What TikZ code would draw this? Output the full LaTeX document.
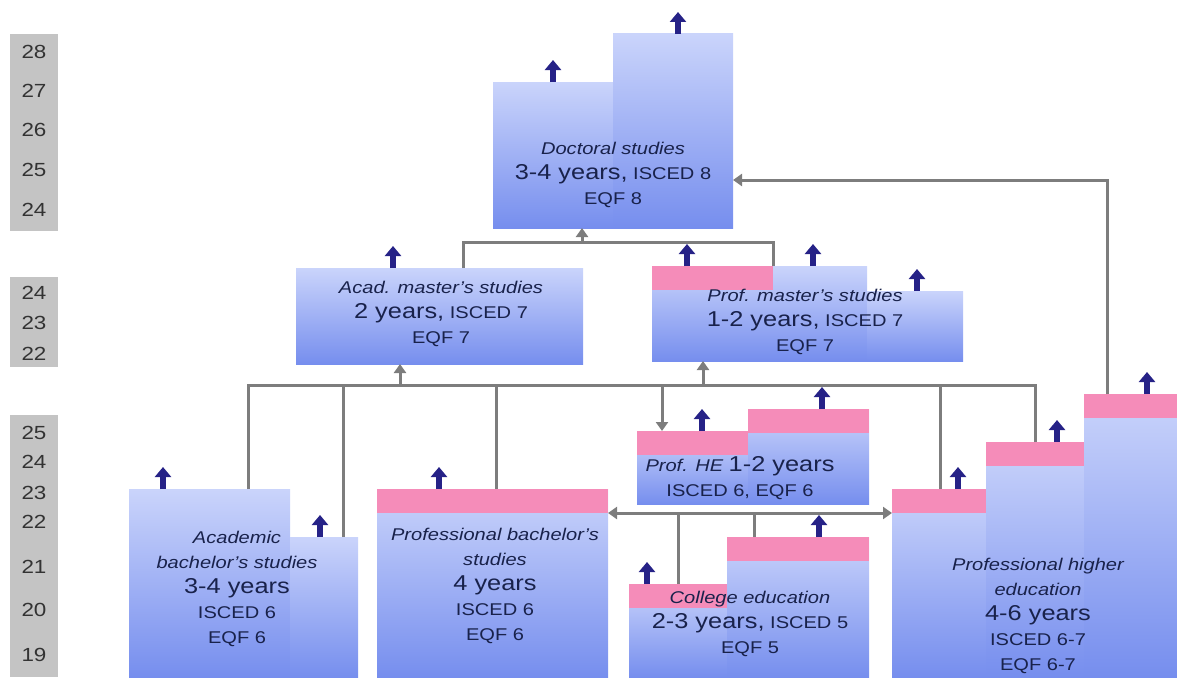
\documentclass[tikz,border=0pt]{standalone}
\usepackage{fontspec}
\setmainfont{Liberation Sans}[FakeStretch=1.18]
\usetikzlibrary{arrows.meta,positioning}
\definecolor{boxtop}{RGB}{202,212,251}
\definecolor{boxbot}{RGB}{118,142,238}
\definecolor{capink}{RGB}{245,140,185}
\definecolor{risecol}{RGB}{38,34,135}
\definecolor{linkgray}{RGB}{125,125,125}
\definecolor{agegray}{RGB}{196,196,196}
\definecolor{txtnavy}{RGB}{25,34,75}
\newcommand{\durfont}{\fontsize{21.5}{25}\selectfont}
\newcommand{\namefont}{\fontsize{17}{25}\selectfont\itshape}

\begin{document}
\begin{tikzpicture}[x=1pt, y=-1pt,
    stepbar/.style={anchor=north west, inner sep=0pt, outer sep=0pt, top color=boxtop, bottom color=boxbot},
    wh/.style 2 args={minimum width=#1pt, minimum height=#2pt},
    pinkcap/.style={path picture={\fill[capink] (path picture bounding box.north west) rectangle ([yshift=-24pt]path picture bounding box.north east);}},
    rise/.style={draw=risecol, line width=6pt, -{Triangle[width=16pt,length=10pt]}},
    link/.style={draw=linkgray, line width=3pt},
    linkto/.style={link, -{Triangle[width=12pt,length=9pt]}},
    linkboth/.style={link, {Triangle[width=12pt,length=9pt]}-{Triangle[width=12pt,length=9pt]}},
    boxtxt/.style={align=center, text=txtnavy, inner sep=0pt, font=\fontsize{17}{25}\selectfont},
    agelbl/.style={text=black!80, inner sep=0pt, font=\fontsize{19}{20}\selectfont}
  ]
  \useasboundingbox (0,0) rectangle (1177,677);

  \fill[agegray] (10,34) rectangle (58,231);
  \fill[agegray] (10,277) rectangle (58,367);
  \fill[agegray] (10,415) rectangle (58,677);
  \foreach \a/\y in {28/52,27/91,26/130,25/170,24/210}
    \node[agelbl] (top\a) at (34,\y) {\a};
  \foreach \a/\y in {24/293,23/323,22/354}
    \node[agelbl] (mid\a) at (34,\y) {\a};
  \foreach \a/\y in {25/433,24/462,23/493,22/522,21/567,20/610,19/655}
    \node[agelbl] (low\a) at (34,\y) {\a};

  \node[stepbar, wh={120}{146}] (doc1) at (493,82) {};
  \node[stepbar, wh={120}{194}] (doc2) at (613,34) {};
  \node[stepbar, wh={287}{96}] (am) at (296,268) {};
  \node[stepbar, pinkcap, wh={121}{95}] (pm1) at (652,266) {};
  \node[stepbar, wh={94}{95}] (pm2) at (773,266) {};
  \node[stepbar, wh={96}{70}] (pm3) at (867,291) {};
  \node[stepbar, pinkcap, wh={111}{73}] (he1) at (637,431) {};
  \node[stepbar, pinkcap, wh={121}{95}] (he2) at (748,409) {};
  \node[stepbar, wh={161}{188}] (ab1) at (129,489) {};
  \node[stepbar, wh={68}{140}] (ab2) at (290,537) {};
  \node[stepbar, pinkcap, wh={231}{188}] (pb) at (377,489) {};
  \node[stepbar, pinkcap, wh={98}{93}] (col1) at (629,584) {};
  \node[stepbar, pinkcap, wh={142}{140}] (col2) at (727,537) {};
  \node[stepbar, pinkcap, wh={94}{188}] (ph1) at (892,489) {};
  \node[stepbar, pinkcap, wh={98}{235}] (ph2) at (986,442) {};
  \node[stepbar, pinkcap, wh={93}{283}] (ph3) at (1084,394) {};

  \node[boxtxt] (doctxt) at (613,175) {{\namefont Doctoral studies}\\{\durfont 3-4 years,} ISCED 8\\EQF 8};
  \node[boxtxt] (amtxt) at (441,314) {{\namefont Acad. master's studies}\\{\durfont 2 years,} ISCED 7\\EQF 7};
  \node[boxtxt] (pmtxt) at (805,322) {{\namefont Prof. master's studies}\\{\durfont 1-2 years,} ISCED 7\\EQF 7};
  \node[boxtxt] (hetxt) at (740,478) {{\namefont Prof. HE} {\durfont 1-2 years}\\ISCED 6, EQF 6};
  \node[boxtxt] (abtxt) at (237,589) {{\namefont Academic}\\{\namefont bachelor's studies}\\{\durfont 3-4 years}\\ISCED 6\\EQF 6};
  \node[boxtxt] (pbtxt) at (495,586) {{\namefont Professional bachelor's}\\{\namefont studies}\\{\durfont 4 years}\\ISCED 6\\EQF 6};
  \node[boxtxt] (coltxt) at (750,624) {{\namefont College education}\\{\durfont 2-3 years,} ISCED 5\\EQF 5};
  \node[boxtxt] (phtxt) at (1038,616) {{\namefont Professional higher}\\{\namefont education}\\{\durfont 4-6 years}\\ISCED 6-7\\EQF 6-7};

  \coordinate (docbus) at (582,242);
  \coordinate (mbus) at (640,385);
  \coordinate (cbus) at (750,513);

  \draw[link] ([xshift=167pt]am.north west) |- (docbus) -| (pm1.north east);
  \draw[linkto] (docbus) -- (docbus |- doc1.south);
  \draw[linkto] ([xshift=23pt]ph3.north west) |- ([yshift=48pt]doc2.south east);

  \foreach \s/\dx in {ab1/119,ab2/53,pb/119,ph1/48,ph2/49}
    \draw[link] ([xshift=\dx pt]\s.north west) |- (mbus);
  \draw[linkto] ([xshift=104pt]am.south west |- mbus) -- ([xshift=104pt]am.south west);
  \draw[linkto] ([xshift=51pt]pm1.south west |- mbus) -- ([xshift=51pt]pm1.south west);
  \draw[linkto] ([xshift=25pt]he1.north west |- mbus) -- ([xshift=25pt]he1.north west);

  \draw[linkboth] ([yshift=-24pt]pb.north east) -- ([yshift=-24pt]ph1.north west);
  \foreach \s/\dx in {col1/49,col2/27}
    \draw[link] ([xshift=\dx pt]\s.north west) |- (cbus);

  \foreach \s/\dx in {doc1/60,doc2/65,am/97,pm1/35,pm2/40,pm3/50,he1/65,he2/74,ab1/34,ab2/30,pb/62,col1/18,col2/92,ph1/66,ph2/71,ph3/63}
    \draw[rise] ([xshift=\dx pt]\s.north west) -- ++(0,-22);
\end{tikzpicture}
\end{document}
